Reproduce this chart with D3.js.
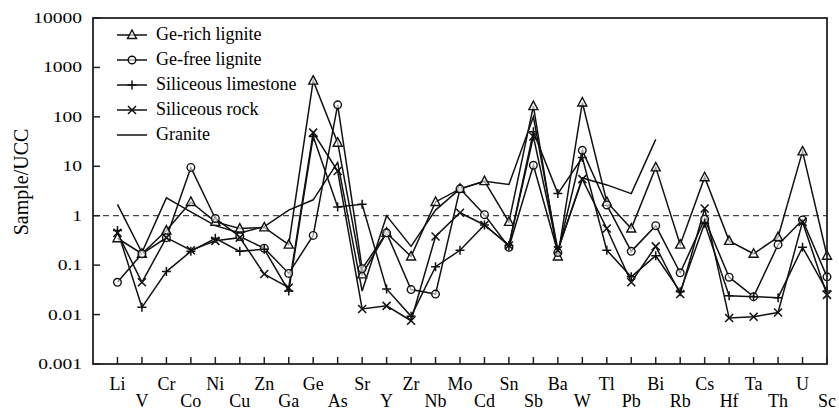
<!DOCTYPE html>
<html>
<head>
<meta charset="utf-8">
<script src="https://cdn.jsdelivr.net/npm/d3@7"></script>
<style>
  body { margin: 0; background: #fff; }
</style>
</head>
<body>
<svg id="chart" width="839" height="412"></svg>
<script>
var elements = ["Li", "V", "Cr", "Co", "Ni", "Cu", "Zn", "Ga", "Ge", "As", "Sr", "Y", "Zr", "Nb", "Mo",
    "Cd", "Sn", "Sb", "Ba", "W", "Tl", "Pb", "Bi", "Rb", "Cs", "Hf", "Ta", "Th", "U", "Sc"];

var geRich = [0.35, 0.17, 0.5, 1.9, 0.75, 0.55, 0.58, 0.26, 540, 30, 0.065, 0.45, 0.15, 1.9, 3.5,
    5.0, 0.75, 165, 0.15, 195, 1.9, 0.55, 9.5, 0.26, 6.0, 0.31, 0.17, 0.37, 20, 0.155];
var geFree = [0.045, 0.17, 0.36, 9.5, 0.88, 0.38, 0.22, 0.068, 0.4, 175, 0.085, 0.45, 0.032, 0.026, 3.5,
    1.05, 0.23, 10.5, 0.18, 21, 1.65, 0.19, 0.63, 0.07, 0.85, 0.057, 0.023, 0.26, 0.82, 0.058];
var limestone = [0.5, 0.014, 0.074, 0.19, 0.35, 0.19, 0.21, 0.03, 40, 1.5, 1.7, 0.033, 0.0092, 0.093, 0.2,
    0.65, 0.25, 50, 2.8, 15, 0.2, 0.058, 0.155, 0.029, 0.7, 0.024, 0.023, 0.022, 0.23, 0.03];
var rock = [0.45, 0.045, 0.36, 0.2, 0.31, 0.36, 0.066, 0.035, 48, 8, 0.013, 0.015, 0.0075, 0.38, 1.15,
    0.65, 0.25, 40, 0.2, 5.5, 0.55, 0.045, 0.24, 0.026, 1.4, 0.0085, 0.009, 0.011, 0.75, 0.025];
// granite only runs from Li to Bi
var granite = [1.7, 0.18, 2.3, 1.2, 0.63, 0.45, 0.6, 1.3, 2.1, 12, 0.03, 1.0, 0.24, 1.3, 3.5,
    5.0, 4.3, 100, 0.2, 5.8, 4.2, 2.8, 35];

var yTicks = [0.001, 0.01, 0.1, 1, 10, 100, 1000, 10000];
var yTickLabels = ["0.001", "0.01", "0.1", "1", "10", "100", "1000", "10000"];

var series = [
    {name: "Ge-rich lignite", values: geRich, marker: "triangle"},
    {name: "Ge-free lignite", values: geFree, marker: "circle"},
    {name: "Siliceous limestone", values: limestone, marker: "plus"},
    {name: "Siliceous rock", values: rock, marker: "cross"},
    {name: "Granite", values: granite, marker: "none"}
];

var serif = "'Liberation Serif', 'Times New Roman', Times, 'DejaVu Serif', serif";

var svg = d3.select("#chart")
    .attr("font-family", serif),
    plotLeft = 93, plotRight = 827, plotTop = 18, plotBottom = 364;

var x = d3.scaleLinear().domain([-1, elements.length - 1]).range([plotLeft, plotRight]);
var y = d3.scaleLog().domain([0.001, 10000]).range([plotBottom, plotTop]);

// reference line at 1
svg.append("line")
    .attr("x1", plotLeft).attr("x2", plotRight)
    .attr("y1", y(1)).attr("y2", y(1))
    .attr("stroke", "#444").attr("stroke-width", 1.3)
    .attr("stroke-dasharray", "6,4");

// series lines
var line = d3.line()
    .x(function (d, i) { return x(i); })
    .y(function (d) { return y(d); });

var g = svg.append("g").attr("class", "series");

series.forEach(function (s) {
    g.append("path")
        .datum(s.values)
        .attr("d", line)
        .attr("fill", "none")
        .attr("stroke", "#111")
        .attr("stroke-width", 1.5)
        .attr("stroke-linejoin", "miter");
});

function drawMarker(sel, type, cx, cy) {
    if (type === "triangle") {
        sel.append("path")
            .attr("d", "M" + cx + "," + (cy - 5) + "L" + (cx + 4.5) + "," + (cy + 3.5) + "L" + (cx - 4.5) + "," + (cy + 3.5) + "Z")
            .attr("fill", "#fff").attr("fill-opacity", 0.6).attr("stroke", "#111").attr("stroke-width", 1.4);
    } else if (type === "circle") {
        sel.append("circle")
            .attr("cx", cx).attr("cy", cy).attr("r", 3.8)
            .attr("fill", "#fff").attr("fill-opacity", 0.6).attr("stroke", "#111").attr("stroke-width", 1.4);
    } else if (type === "plus") {
        sel.append("path")
            .attr("d", "M" + (cx - 4.5) + "," + cy + "H" + (cx + 4.5) + "M" + cx + "," + (cy - 4.5) + "V" + (cy + 4.5))
            .attr("stroke", "#111").attr("stroke-width", 1.5);
    } else if (type === "cross") {
        sel.append("path")
            .attr("d", "M" + (cx - 4) + "," + (cy - 4) + "L" + (cx + 4) + "," + (cy + 4) +
                "M" + (cx + 4) + "," + (cy - 4) + "L" + (cx - 4) + "," + (cy + 4))
            .attr("stroke", "#111").attr("stroke-width", 1.5);
    }
}

series.forEach(function (s) {
    if (s.marker === "none") return;
    var mg = g.append("g");
    s.values.forEach(function (v, i) {
        drawMarker(mg, s.marker, x(i), y(v));
    });
});

// frame
svg.append("rect")
    .attr("x", plotLeft).attr("y", plotTop)
    .attr("width", plotRight - plotLeft).attr("height", plotBottom - plotTop)
    .attr("fill", "none").attr("stroke", "#222").attr("stroke-width", 1.8);

// y axis ticks + labels (the reference digits look horizontally stretched)
var yAxis = svg.append("g").attr("class", "y-axis");
yTicks.forEach(function (t, i) {
    yAxis.append("line")
        .attr("x1", plotLeft).attr("x2", plotLeft + 7)
        .attr("y1", y(t)).attr("y2", y(t))
        .attr("stroke", "#222").attr("stroke-width", 1.5);
    yAxis.append("text")
        .attr("transform", "translate(" + (plotLeft - 11) + "," + (y(t) + 5) + ") scale(1.3,1)")
        .attr("text-anchor", "end")
        .attr("fill", "#000")
        .style("font-size", "15px")
        .text(yTickLabels[i]);
});

// x axis ticks + staggered labels
var xAxis = svg.append("g").attr("class", "x-axis");
elements.forEach(function (el, i) {
    xAxis.append("line")
        .attr("x1", x(i)).attr("x2", x(i))
        .attr("y1", plotBottom).attr("y2", plotBottom - 7)
        .attr("stroke", "#222").attr("stroke-width", 1.5);
    xAxis.append("text")
        .attr("x", x(i)).attr("y", i % 2 === 0 ? 390 : 407)
        .attr("text-anchor", "middle")
        .attr("fill", "#000")
        .style("font-size", "18px")
        .text(el);
});

svg.append("text")
    .attr("transform", "translate(28,182) rotate(-90)")
    .attr("text-anchor", "middle")
    .attr("fill", "#000")
    .style("font-size", "20px")
    .text("Sample/UCC");

// legend
var legend = svg.append("g").attr("class", "legend");
series.forEach(function (s, i) {
    var ly = 35 + i * 25;
    legend.append("line")
        .attr("x1", 117).attr("x2", 147)
        .attr("y1", ly).attr("y2", ly)
        .attr("stroke", "#111").attr("stroke-width", 1.5);
    drawMarker(legend, s.marker, 132, ly);
    legend.append("text")
        .attr("x", 156).attr("y", ly + 5)
        .attr("fill", "#000")
        .style("font-size", "18px")
        .text(s.name);
});
</script>
</body>
</html>
